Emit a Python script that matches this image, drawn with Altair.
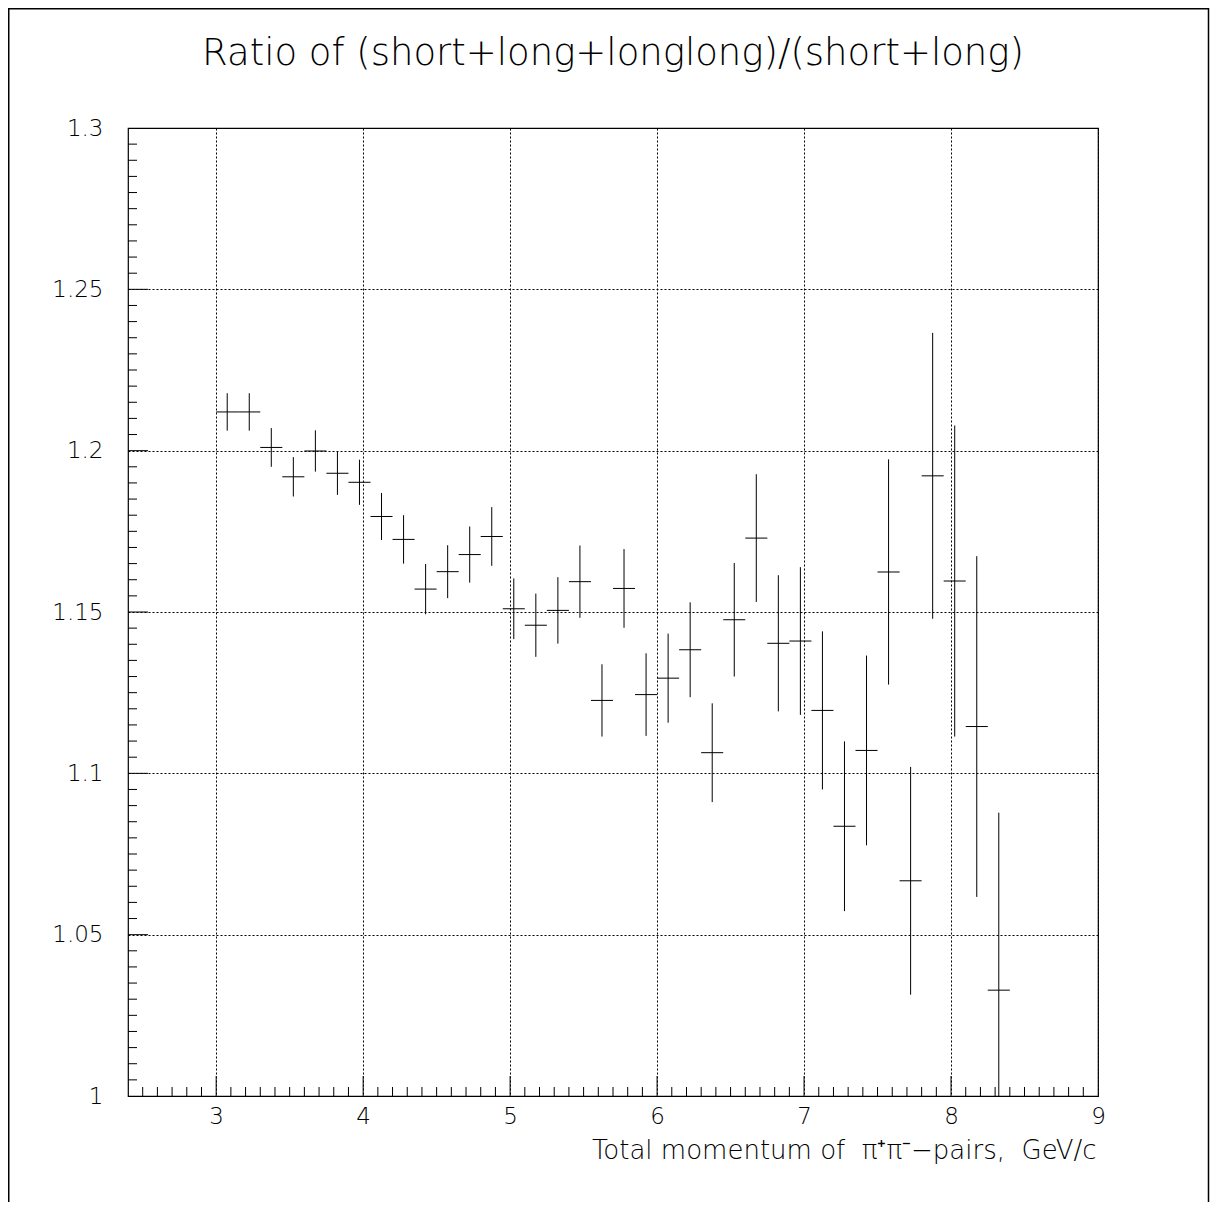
import altair as alt
import pandas as pd

# ---- data ----
bin_center = [3.075, 3.225, 3.375, 3.525, 3.675, 3.825, 3.975, 4.125, 4.275, 4.425,
              4.575, 4.725, 4.875, 5.025, 5.175, 5.325, 5.475, 5.625, 5.775, 5.925,
              6.075, 6.225, 6.375, 6.525, 6.675, 6.825, 6.975, 7.125, 7.275, 7.425,
              7.575, 7.725, 7.875, 8.025, 8.175, 8.325]
ratio = [1.2120, 1.2120, 1.2010, 1.1919, 1.1999, 1.1930, 1.1902, 1.1796, 1.1725, 1.1571,
         1.1625, 1.1678, 1.1734, 1.1510, 1.1459, 1.1505, 1.1594, 1.1226, 1.1573, 1.1244,
         1.1295, 1.1383, 1.1064, 1.1476, 1.1729, 1.1403, 1.1410, 1.1195, 1.0836, 1.1071,
         1.1624, 1.0667, 1.1922, 1.1596, 1.1145, 1.0328]
error = [0.0058, 0.0058, 0.0060, 0.0061, 0.0064, 0.0067, 0.0070, 0.0073, 0.0075, 0.0078,
         0.0082, 0.0087, 0.0091, 0.0094, 0.0098, 0.0103, 0.0112, 0.0112, 0.0122, 0.0128,
         0.0138, 0.0147, 0.0153, 0.0176, 0.0198, 0.0211, 0.0229, 0.0245, 0.0263, 0.0294,
         0.0349, 0.0353, 0.0443, 0.0482, 0.0528, 0.0550]
bin_width = 0.15

x_major = [3, 4, 5, 6, 7, 8, 9]
y_major = [1.0, 1.05, 1.1, 1.15, 1.2, 1.25, 1.3]
x_minor = [round(2.4 + 0.1 * i, 2) for i in range(1, 66) if abs(round(2.4 + 0.1 * i, 2) - round(2.4 + 0.1 * i)) > 1e-6]
y_minor = [round(1.0 + 0.005 * i, 3) for i in range(1, 60) if i % 10 != 0]

TITLE = "Ratio of (short+long+longlong)/(short+long)"
XTITLE = "Total momentum of\u00a0\u00a0\u03c0\u207a\u03c0\u207b\u2212pairs,\u00a0\u00a0GeV/c"

W, H = 970, 968
FONT = "DejaVu Sans"

df = pd.DataFrame({"x": bin_center, "y": ratio, "e": error})
df["lo"] = df["y"] - df["e"]
df["hi"] = df["y"] + df["e"]
df["xlo"] = df["x"] - bin_width / 2
df["xhi"] = df["x"] + bin_width / 2

xs = alt.Scale(domain=[2.4, 9.0], nice=False, zero=False)
ys = alt.Scale(domain=[1.0, 1.3], nice=False, zero=False)

x_axis = alt.Axis(values=x_major, grid=True, gridDash=[2, 2], gridColor="black", gridOpacity=1,
                  gridWidth=1, ticks=False, tickSize=0, domain=False, labelFont=FONT, labelFontSize=23,
                  labelFontWeight=200, labelColor="black", labelPadding=9, labelBaseline="top",
                  labelFlush=False, format="d", title=XTITLE, titleFont=FONT, titleFontSize=26,
                  titleFontWeight=200, titleColor="black", titleX=968, titleY=62, titleAlign="right",
                  titleAnchor="end", titleBaseline="alphabetic")
y_axis = alt.Axis(values=y_major, grid=True, gridDash=[2, 2], gridColor="black", gridOpacity=1,
                  gridWidth=1, ticks=False, tickSize=0, domain=False, labelFont=FONT, labelFontSize=23,
                  labelFontWeight=200, labelColor="black", labelPadding=25, labelBaseline="middle",
                  labelFlush=False, format="~g", title="")

vbars = alt.Chart(df).mark_rule(color="black", strokeWidth=1, clip=True).encode(
    x=alt.X("x:Q", scale=xs, axis=x_axis),
    y=alt.Y("lo:Q", scale=ys, axis=y_axis),
    y2="hi:Q",
)
hbars = alt.Chart(df).mark_rule(color="black", strokeWidth=1, clip=True).encode(
    x=alt.X("xlo:Q", scale=xs, axis=x_axis),
    x2="xhi:Q",
    y=alt.Y("y:Q", scale=ys, axis=y_axis),
)

# inward ticks
xmaj = alt.Chart(pd.DataFrame({"v": x_major[:-1]})).mark_rule(color="black", strokeWidth=1).encode(
    x=alt.X("v:Q", scale=xs, axis=x_axis), y=alt.value(H), y2=alt.value(H - 20))
xmin = alt.Chart(pd.DataFrame({"v": x_minor})).mark_rule(color="black", strokeWidth=1).encode(
    x=alt.X("v:Q", scale=xs, axis=x_axis), y=alt.value(H), y2=alt.value(H - 9))
ymaj = alt.Chart(pd.DataFrame({"v": y_major[1:-1]})).mark_rule(color="black", strokeWidth=1).encode(
    y=alt.Y("v:Q", scale=ys, axis=y_axis), x=alt.value(0), x2=alt.value(20))
ymin = alt.Chart(pd.DataFrame({"v": y_minor})).mark_rule(color="black", strokeWidth=1).encode(
    y=alt.Y("v:Q", scale=ys, axis=y_axis), x=alt.value(0), x2=alt.value(9))

# outer canvas frame
frame = alt.Chart(pd.DataFrame({"k": [0]})).mark_rect(
    fill="white", fillOpacity=0, stroke="black", strokeWidth=1.5, clip=False).encode(
    x=alt.value(-119.25), x2=alt.value(1080.5), y=alt.value(-119.25), y2=alt.value(1100))

chart = alt.layer(vbars, hbars, xmin, xmaj, ymin, ymaj, frame).properties(
    width=W, height=H,
    title=alt.TitleParams(TITLE, font=FONT, fontSize=37, fontWeight=200, color="black",
                          anchor="middle", frame="group", baseline="alphabetic", offset=-94),
    autosize=alt.AutoSizeParams(type="none"),
    padding={"left": 120, "top": 120, "right": 112, "bottom": 106},
    background="white",
).configure_view(stroke="black", strokeWidth=1.2)

chart.save("out.html", embed_options={"renderer": "svg", "actions": False})
